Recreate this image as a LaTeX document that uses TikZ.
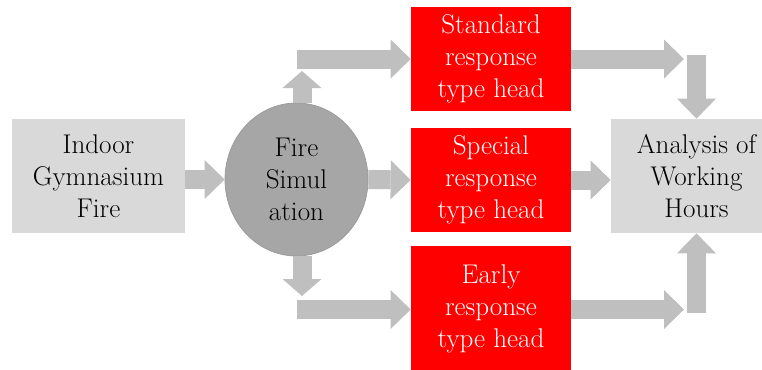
\documentclass[tikz,border=0pt]{standalone}
\usepackage{fontspec}
\usepackage{tikz}
\usetikzlibrary{arrows.meta,shapes,positioning}
\usepackage{xcolor}
\definecolor{fhgrey}{RGB}{217,217,217}
\definecolor{fharrow}{RGB}{191,191,191}
\definecolor{fhsim}{RGB}{166,166,166}
\definecolor{fhred}{RGB}{255,0,0}
\newcommand{\fhfont}{\fontsize{15.4}{18.2}\selectfont}
\tikzstyle{greybox} = [rectangle, minimum width=3.46cm, minimum height=2.28cm, text centered, align=center, fill=fhgrey, font=\fhfont]
\tikzstyle{headbox} = [rectangle, minimum width=3.2cm, minimum height=2.08cm, text centered, align=center, fill=fhred, text=white, font=\fhfont]
\tikzstyle{simblob} = [ellipse, minimum width=2.86cm, minimum height=3.06cm, inner sep=0pt, align=center, fill=fhsim, draw=fhsim!92!black, thin, font=\fhfont]
\tikzstyle{fatarrow} = [line width=0.38cm, color=fharrow, -{Triangle[width=0.78cm,length=0.4cm,line width=0pt]}]
\tikzstyle{stubarrow} = [line width=0.38cm, color=fharrow, -{Triangle[width=0.78cm,length=0.34cm,line width=0pt]}]

\begin{document}
\begin{tikzpicture}
\clip (0,0) rectangle (15.24,7.38);

% Source and simulation
\node[greybox] (indoor) at (1.97,3.86) {Indoor\\Gymnasium\\Fire};
\node[simblob] (sim) at (5.93,3.79) {Fire\\Simul\\ation};

% Sprinkler heads
\node[headbox] (std) at (9.82,6.2) {Standard\\response\\type head};
\node[headbox] (spc) at (9.82,3.78) {Special\\response\\type head};
\node[headbox, minimum height=2.52cm] (erl) at (9.82,1.2) {Early\\response\\type head};

% Result
\node[greybox, minimum width=3.42cm] (ana) at (13.93,3.86) {Analysis of\\Working\\Hours};

% Bend points
\coordinate (uptip) at (6.04,5.96);
\coordinate (stdin) at (5.93,6.2);
\coordinate (stdout) at (13.68,6.2);
\coordinate (anatop) at (13.93,6.28);
\coordinate (downtip) at (6.04,1.46);
\coordinate (erlin) at (5.93,1.19);
\coordinate (erlout) at (13.68,1.19);
\coordinate (anabot) at (13.93,1.12);

% Arrows
\draw[fatarrow] (indoor.east |- sim.west) -- (sim.west);
\draw[fatarrow] (sim.east) -- (spc.west);
\draw[fatarrow] (spc.east) -- (spc.east -| ana.west);

\draw[stubarrow] (sim.north -| uptip) -- (uptip);
\draw[fatarrow] (stdin) -- (stdin -| std.west);
\draw[fatarrow] (std.east |- stdout) -- (stdout);
\draw[fatarrow] (anatop) -- (ana.north);

\draw[stubarrow] (sim.south -| downtip) -- (downtip);
\draw[fatarrow] (erlin) -- (erlin -| erl.west);
\draw[fatarrow] (erl.east |- erlout) -- (erlout);
\draw[fatarrow] (anabot) -- (ana.south);
\end{tikzpicture}
\end{document}
